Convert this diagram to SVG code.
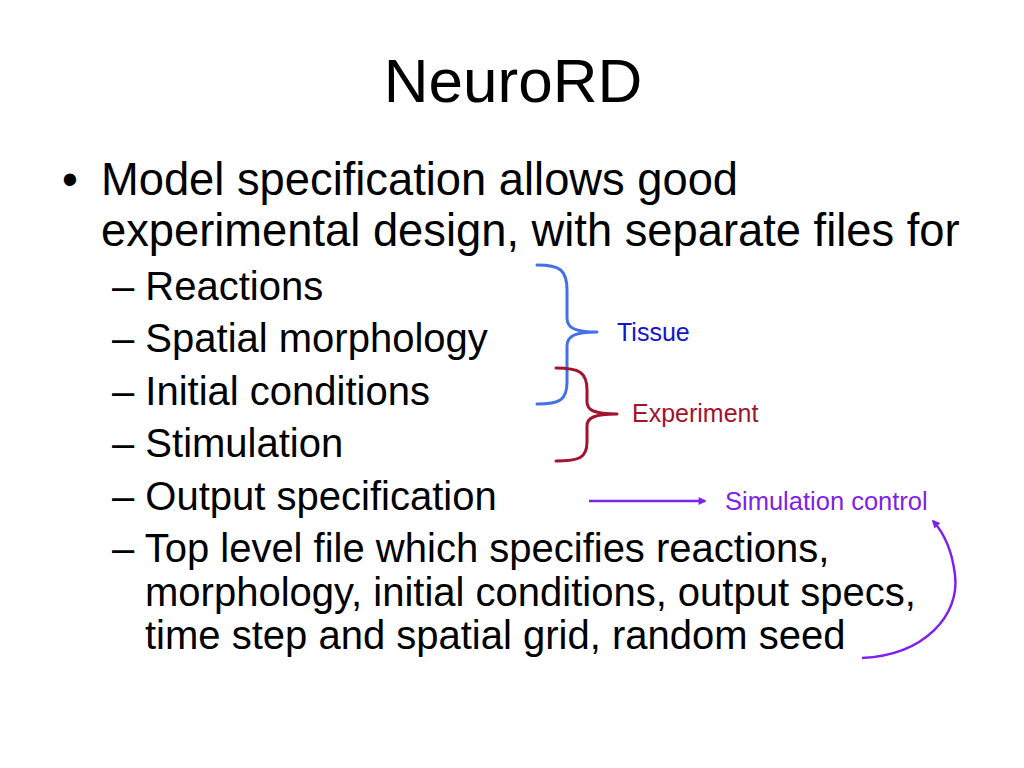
<svg xmlns="http://www.w3.org/2000/svg" width="1024" height="768" viewBox="0 0 1024 768">
  <defs>
    <style>
      text { font-family: "Liberation Sans", Arial, sans-serif; fill: #000; }
      .title { font-size: 62px; text-anchor: middle; }
      .l1 { font-size: 45.3px; }
      .l2 { font-size: 40px; }
      .lbl { font-size: 25px; }
      .brace { fill: none; stroke-width: 3; stroke-linecap: round; stroke-linejoin: round; }
      .conn { fill: none; stroke: #7F1FF0; stroke-width: 2.5; }
    </style>
    <marker id="arr" viewBox="0 0 10 10" refX="8" refY="5" markerWidth="10" markerHeight="8" markerUnits="userSpaceOnUse" orient="auto">
      <path d="M0,0 L10,5 L0,10 z" fill="#7F1FF0"/>
    </marker>
  </defs>
  <rect width="1024" height="768" fill="#fff"/>

  <g id="title"><text class="title" x="513" y="102">NeuroRD</text></g>

  <g id="bullet-main">
    <text class="l1" x="62" y="195">•</text>
    <text class="l1" x="101" y="195">Model specification allows good</text>
    <text class="l1" x="101" y="246">experimental design, with separate files for</text>
  </g>

  <g id="sub-items">
    <text class="l2" x="112" y="300">– Reactions</text>
    <text class="l2" x="112" y="352">– Spatial morphology</text>
    <text class="l2" x="112" y="404.5">– Initial conditions</text>
    <text class="l2" x="112" y="457">– Stimulation</text>
    <text class="l2" x="112" y="509.5">– Output specification</text>
    <text class="l2" x="112" y="562">– Top level file which specifies reactions,</text>
    <text class="l2" x="145" y="605.5">morphology, initial conditions, output specs,</text>
    <text class="l2" x="145" y="649">time step and spatial grid, random seed</text>
  </g>

  <g id="brace-tissue">
    <path class="brace" stroke="#4271E8" d="M537,265 C560,265 567,270 567,290 L567,318 C567,328 575,332 597,332 C575,332 567,336 567,346 L567,382 C567,400 560,404 537,404"/>
  </g>
  <g id="label-tissue"><text class="lbl" x="617" y="341" style="fill:#1414CC">Tissue</text></g>

  <g id="brace-experiment">
    <path class="brace" stroke="#A3122F" d="M556,368 C579,368 587,372 587,390 L587,402 C587,410 594,414 617,414 C594,414 587,418 587,426 L587,442 C587,458 579,461 556,461"/>
  </g>
  <g id="label-experiment"><text class="lbl" x="632" y="422" style="fill:#A3122F">Experiment</text></g>

  <g id="label-simulation"><text class="lbl" x="725" y="510" style="fill:#7F1FE8;font-size:25.5px">Simulation control</text></g>

  <g id="connectors">
    <line class="conn" x1="589" y1="501" x2="705" y2="501" marker-end="url(#arr)"/>
    <path class="conn" d="M862,658 C925,655 960,615 955,575 C952,550 944,533 933,521" marker-end="url(#arr)"/>
  </g>
</svg>
